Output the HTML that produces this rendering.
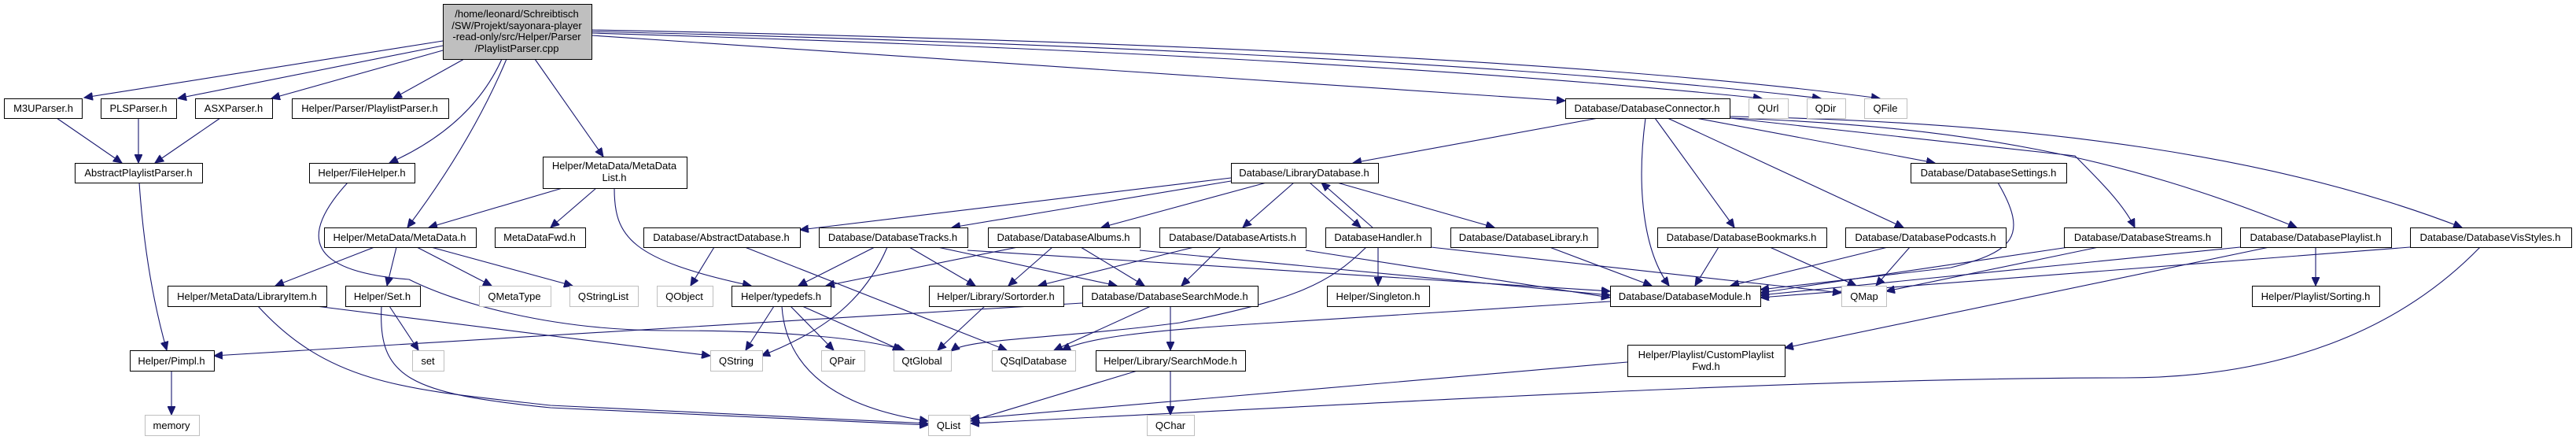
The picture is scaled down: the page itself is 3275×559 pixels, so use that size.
<!DOCTYPE html>
<html><head><meta charset="utf-8"><style>
html,body{margin:0;padding:0;background:#fff;}
svg{display:block;}
text{font-family:"Liberation Sans",sans-serif;font-size:13px;fill:#000;}
.b{fill:#fff;stroke:#000;stroke-width:1;}
.g{fill:#fff;stroke:#bfbfbf;stroke-width:1;}
.e{fill:none;stroke:#191970;stroke-width:1.1;marker-end:url(#a);}
</style></head><body>
<svg width="3275" height="559" viewBox="0 0 3275 559" xmlns="http://www.w3.org/2000/svg">
<defs><marker id="a" markerUnits="userSpaceOnUse" markerWidth="12" markerHeight="10" refX="11" refY="5" orient="auto"><path d="M0,0 L11,5 L0,10 z" fill="#191970" stroke="#191970"/></marker></defs>
<g>
<path class="e" d="M563,52 L107,124"/>
<path class="e" d="M563,58 L226,125"/>
<path class="e" d="M563,64 L345,125"/>
<path class="e" d="M590,75 L500,125"/>
<path class="e" d="M638,75 Q600,160 495,207"/>
<path class="e" d="M644,75 Q600,180 518,289"/>
<path class="e" d="M680,75 L767,199"/>
<path class="e" d="M752,45 Q1400,90 1990,128"/>
<path class="e" d="M752,42 Q1700,70 2240,125"/>
<path class="e" d="M752,40 Q1800,65 2315,125"/>
<path class="e" d="M752,38 Q1900,60 2390,125"/>
<path class="e" d="M72,150 L155,207"/>
<path class="e" d="M176,150 L176,207"/>
<path class="e" d="M280,150 L197,207"/>
<path class="e" d="M177,232 Q185,350 212,445"/>
<path class="e" d="M218,471 L218,527"/>
<path class="e" d="M442,232 C380,300 390,345 520,355 C580,385 700,420 850,420 C1000,420 1100,430 1150,445"/>
<path class="e" d="M715,239 L545,289"/>
<path class="e" d="M758,239 L700,289"/>
<path class="e" d="M781,239 C781,300 800,330 955,363"/>
<path class="e" d="M476,314 L350,363"/>
<path class="e" d="M504,314 L492,363"/>
<path class="e" d="M530,314 L625,363"/>
<path class="e" d="M548,314 L728,363"/>
<path class="e" d="M402,389 L903,452"/>
<path class="e" d="M328,389 C420,490 520,495 700,515 L1180,538"/>
<path class="e" d="M495,389 L532,445"/>
<path class="e" d="M485,389 C480,480 520,500 700,518 L1180,540"/>
<path class="e" d="M1376,385 L272,452"/>
<path class="e" d="M1737,314 C1690,360 1650,380 1500,410 C1350,430 1230,430 1209,446"/>
<path class="e" d="M2047,383 L1620,410 C1450,420 1380,430 1350,445"/>
<path class="e" d="M908,314 L878,363"/>
<path class="e" d="M947,314 L1280,445"/>
<path class="e" d="M1112,314 L1015,363"/>
<path class="e" d="M1128,314 C1100,380 1050,420 968,452"/>
<path class="e" d="M1156,314 L1240,363"/>
<path class="e" d="M1192,314 L1420,363"/>
<path class="e" d="M1230,318 L2047,370"/>
<path class="e" d="M1294,314 L1050,363"/>
<path class="e" d="M1338,314 L1282,363"/>
<path class="e" d="M1374,314 L1455,363"/>
<path class="e" d="M1449,318 L2047,375"/>
<path class="e" d="M1518,314 L1320,363"/>
<path class="e" d="M1552,314 L1502,363"/>
<path class="e" d="M1660,318 L2047,378"/>
<path class="e" d="M984,389 L948,445"/>
<path class="e" d="M1005,389 L1060,445"/>
<path class="e" d="M1020,389 L1146,445"/>
<path class="e" d="M994,389 C1000,480 1080,520 1180,535"/>
<path class="e" d="M1252,389 L1192,445"/>
<path class="e" d="M1463,389 L1340,445"/>
<path class="e" d="M1488,389 L1488,445"/>
<path class="e" d="M1446,471 L1234,535"/>
<path class="e" d="M1488,471 L1488,527"/>
<path class="e" d="M1565,226 L1017,292"/>
<path class="e" d="M1565,230 L1210,289"/>
<path class="e" d="M1610,232 L1400,289"/>
<path class="e" d="M1645,232 L1580,289"/>
<path class="e" d="M1665,232 L1730,289"/>
<path class="e" d="M1745,289 L1680,232"/>
<path class="e" d="M1700,232 L1900,289"/>
<path class="e" d="M1752,314 L1752,363"/>
<path class="e" d="M1819,314 L2341,372"/>
<path class="e" d="M1970,314 L2100,363"/>
<path class="e" d="M2032,150 L1720,207"/>
<path class="e" d="M2092,150 C2080,240 2090,320 2122,363"/>
<path class="e" d="M2104,150 L2205,289"/>
<path class="e" d="M2120,150 L2420,289"/>
<path class="e" d="M2156,150 L2460,207"/>
<path class="e" d="M2199,150 L2638,198 C2670,230 2700,260 2714,289"/>
<path class="e" d="M2199,150 C2500,160 2700,200 2920,289"/>
<path class="e" d="M2199,148 C2600,155 2900,200 3130,289"/>
<path class="e" d="M2185,314 L2155,363"/>
<path class="e" d="M2250,314 L2360,363"/>
<path class="e" d="M2400,314 L2200,363"/>
<path class="e" d="M2428,314 L2385,363"/>
<path class="e" d="M2540,232 C2580,300 2560,320 2480,340 L2238,368"/>
<path class="e" d="M2630,314 L2238,372"/>
<path class="e" d="M2668,314 L2398,370"/>
<path class="e" d="M2848,314 L2238,375"/>
<path class="e" d="M2885,314 L2269,442"/>
<path class="e" d="M2944,314 L2944,363"/>
<path class="e" d="M3064,314 L2238,378"/>
<path class="e" d="M3153,314 C3050,420 2900,480 2700,480 C2300,480 1800,510 1234,538"/>
<path class="e" d="M2069,460 L1234,532"/>
</g>
<g text-anchor="middle">
<rect x="563.5" y="5.5" width="189" height="70" fill="#bfbfbf" stroke="#000"/>
<text x="657" y="22">/home/leonard/Schreibtisch</text>
<text x="657" y="37">/SW/Projekt/sayonara-player</text>
<text x="657" y="51">-read-only/src/Helper/Parser</text>
<text x="657" y="66">/PlaylistParser.cpp</text>

<rect class="b" x="5.5" y="125.5" width="99" height="25"/><text x="55" y="142">M3UParser.h</text>
<rect class="b" x="128.5" y="125.5" width="96" height="25"/><text x="176" y="142">PLSParser.h</text>
<rect class="b" x="248.5" y="125.5" width="98" height="25"/><text x="297" y="142">ASXParser.h</text>
<rect class="b" x="371.5" y="125.5" width="199" height="25"/><text x="470" y="142">Helper/Parser/PlaylistParser.h</text>
<rect class="b" x="95.5" y="207.5" width="162" height="25"/><text x="176" y="224">AbstractPlaylistParser.h</text>
<rect class="b" x="393.5" y="207.5" width="134" height="25"/><text x="460" y="224">Helper/FileHelper.h</text>
<rect class="b" x="690.5" y="199.5" width="183" height="40"/><text x="781" y="215">Helper/MetaData/MetaData</text><text x="781" y="230">List.h</text>
<rect class="b" x="412.5" y="289.5" width="193" height="25"/><text x="508" y="306">Helper/MetaData/MetaData.h</text>
<rect class="b" x="629.5" y="289.5" width="115" height="25"/><text x="686" y="306">MetaDataFwd.h</text>
<rect class="b" x="213.5" y="363.5" width="202" height="26"/><text x="314" y="381">Helper/MetaData/LibraryItem.h</text>
<rect class="b" x="439.5" y="363.5" width="95" height="26"/><text x="486" y="381">Helper/Set.h</text>
<rect class="g" x="609.5" y="363.5" width="91" height="26"/><text x="654" y="381">QMetaType</text>
<rect class="g" x="724.5" y="363.5" width="87" height="26"/><text x="767" y="381">QStringList</text>
<rect class="b" x="165.5" y="445.5" width="107" height="26"/><text x="218" y="463">Helper/Pimpl.h</text>
<rect class="g" x="524.5" y="445.5" width="40" height="26"/><text x="544" y="463">set</text>
<rect class="g" x="184.5" y="527.5" width="69" height="26"/><text x="218" y="545">memory</text>

<rect class="b" x="818.5" y="289.5" width="199" height="25"/><text x="917" y="306">Database/AbstractDatabase.h</text>
<rect class="b" x="1041.5" y="289.5" width="189" height="25"/><text x="1135" y="306">Database/DatabaseTracks.h</text>
<rect class="b" x="1256.5" y="289.5" width="193" height="25"/><text x="1352" y="306">Database/DatabaseAlbums.h</text>
<rect class="b" x="1474.5" y="289.5" width="186" height="25"/><text x="1567" y="306">Database/DatabaseArtists.h</text>
<rect class="g" x="835.5" y="363.5" width="71" height="26"/><text x="870" y="381">QObject</text>
<rect class="b" x="930.5" y="363.5" width="126" height="26"/><text x="993" y="381">Helper/typedefs.h</text>
<rect class="b" x="1181.5" y="363.5" width="171" height="26"/><text x="1266" y="381">Helper/Library/Sortorder.h</text>
<rect class="b" x="1376.5" y="363.5" width="223" height="26"/><text x="1487" y="381">Database/DatabaseSearchMode.h</text>
<rect class="g" x="903.5" y="445.5" width="66" height="26"/><text x="936" y="463">QString</text>
<rect class="g" x="1044.5" y="445.5" width="55" height="26"/><text x="1071" y="463">QPair</text>
<rect class="g" x="1136.5" y="445.5" width="73" height="26"/><text x="1172" y="463">QtGlobal</text>
<rect class="g" x="1261.5" y="445.5" width="106" height="26"/><text x="1314" y="463">QSqlDatabase</text>
<rect class="b" x="1393.5" y="445.5" width="190" height="26"/><text x="1488" y="463">Helper/Library/SearchMode.h</text>
<rect class="g" x="1180.5" y="527.5" width="53" height="26"/><text x="1206" y="545">QList</text>
<rect class="g" x="1458.5" y="527.5" width="60" height="26"/><text x="1488" y="545">QChar</text>
<rect class="b" x="1565.5" y="207.5" width="187" height="25"/><text x="1658" y="224">Database/LibraryDatabase.h</text>

<rect class="b" x="1990.5" y="125.5" width="209" height="25"/><text x="2094" y="142">Database/DatabaseConnector.h</text>
<rect class="g" x="2223.5" y="125.5" width="50" height="25"/><text x="2248" y="142">QUrl</text>
<rect class="g" x="2297.5" y="125.5" width="49" height="25"/><text x="2321" y="142">QDir</text>
<rect class="g" x="2370.5" y="125.5" width="54" height="25"/><text x="2397" y="142">QFile</text>
<rect class="b" x="1685.5" y="289.5" width="134" height="25"/><text x="1752" y="306">DatabaseHandler.h</text>
<rect class="b" x="1844.5" y="289.5" width="187" height="25"/><text x="1937" y="306">Database/DatabaseLibrary.h</text>
<rect class="b" x="2107.5" y="289.5" width="215" height="25"/><text x="2214" y="306">Database/DatabaseBookmarks.h</text>
<rect class="b" x="2346.5" y="289.5" width="204" height="25"/><text x="2448" y="306">Database/DatabasePodcasts.h</text>
<rect class="b" x="1687.5" y="363.5" width="130" height="26"/><text x="1752" y="381">Helper/Singleton.h</text>
<rect class="b" x="2047.5" y="363.5" width="191" height="26"/><text x="2142" y="381">Database/DatabaseModule.h</text>
<rect class="g" x="2341.5" y="363.5" width="57" height="26"/><text x="2370" y="381">QMap</text>
<rect class="b" x="2069.5" y="438.5" width="200" height="40"/><text x="2169" y="455">Helper/Playlist/CustomPlaylist</text><text x="2169" y="470">Fwd.h</text>
<rect class="b" x="2429.5" y="207.5" width="198" height="25"/><text x="2528" y="224">Database/DatabaseSettings.h</text>
<rect class="b" x="2624.5" y="289.5" width="200" height="25"/><text x="2724" y="306">Database/DatabaseStreams.h</text>
<rect class="b" x="2848.5" y="289.5" width="192" height="25"/><text x="2944" y="306">Database/DatabasePlaylist.h</text>
<rect class="b" x="3064.5" y="289.5" width="205" height="25"/><text x="3166" y="306">Database/DatabaseVisStyles.h</text>
<rect class="b" x="2863.5" y="363.5" width="162" height="26"/><text x="2944" y="381">Helper/Playlist/Sorting.h</text>
</g>
</svg>
</body></html>
